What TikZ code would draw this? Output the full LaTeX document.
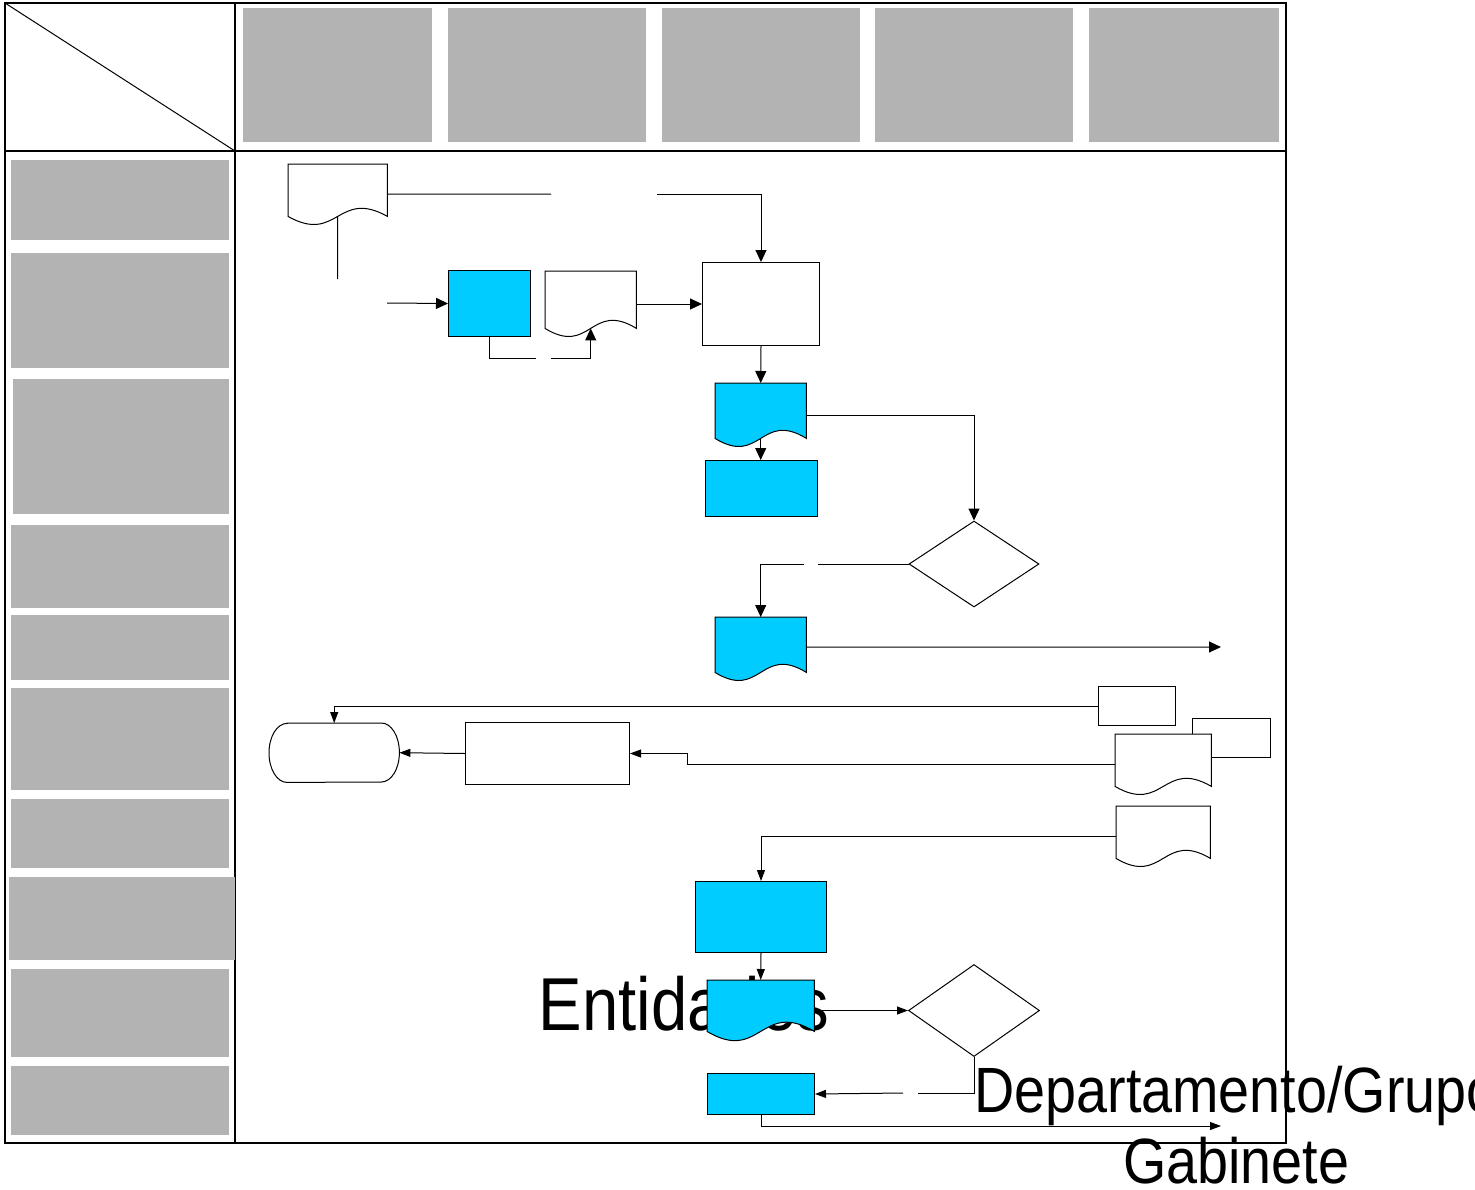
\documentclass[tikz,border=0pt]{standalone}
\usepackage{fontspec}
\newfontfamily\lblfont[FakeStretch=0.87]{Liberation Sans}
\usetikzlibrary{shapes.geometric,arrows.meta,calc}
\definecolor{lanegray}{HTML}{B3B3B3}
\definecolor{procblue}{HTML}{00CCFF}
\newcommand\docpath[3]{%
  \draw[line width=1pt, fill=#2] (#1.north west) -- (#1.north east) -- (#1.south east)
    .. controls ($(#1.south)+(0,-#3)$) and ($(#1.south)+(0,#3)$) .. (#1.south west) -- cycle;}
\newcommand\hdrbox[5]{\node[hdr, minimum width=#4pt, minimum height=#5pt] (#1) at (#2,#3) {};}
\begin{document}
\begin{tikzpicture}[x=1pt,y=-1pt,
  frame/.style={line width=1.5pt},
  hdr/.style={fill=lanegray, draw=none, inner sep=0, anchor=north west},
  box/.style={draw, line width=1pt, fill=white, inner sep=0, anchor=north west},
  bluebox/.style={box, fill=procblue},
  docarea/.style={draw=none, inner sep=0, anchor=north west},
  dec/.style={draw, line width=1pt, fill=white, shape=diamond, inner sep=0},
  flow/.style={line width=1pt, -{Triangle[length=12pt,width=11pt]}},
  flowsm/.style={line width=1pt, -{Triangle[length=11pt,width=8pt]}},
  plain/.style={line width=1pt},
  lbl/.style={inner sep=0, anchor=base},
]
\useasboundingbox (0,0) rectangle (1475,1189);
% frame
\draw[frame] (5,3) rectangle (1286,1143);
\draw[frame] (5,151) -- (1286,151);
\draw[frame] (235,3) -- (235,1143);
\draw[line width=1pt] (5,3) -- (235,151);
% header boxes
\hdrbox{t1}{243}{8}{189}{134}
\hdrbox{t2}{448}{8}{198}{134}
\hdrbox{t3}{662}{8}{198}{134}
\hdrbox{t4}{875}{8}{198}{134}
\hdrbox{t5}{1089}{8}{190}{134}
\hdrbox{r1}{11}{160}{218}{80}
\hdrbox{r2}{11}{253}{218}{115}
\hdrbox{r3}{13}{379}{216}{135}
\hdrbox{r4}{11}{525}{218}{83}
\hdrbox{r5}{11}{615}{218}{65}
\hdrbox{r6}{11}{688}{218}{102}
\hdrbox{r7}{11}{799}{218}{69}
\hdrbox{r8}{9}{877}{226}{83}
\hdrbox{r9}{11}{969}{218}{88}
\hdrbox{r10}{11}{1066}{218}{69}
% big labels
\node[lbl, font={\lblfont\fontsize{75}{80}\selectfont}] (ent) at (684,1030) {Entidades};
% shapes
\node[docarea, minimum width=99pt, minimum height=52pt] (A) at (288,164) {};
\docpath{A}{white}{28}
\node[bluebox, minimum width=82pt, minimum height=66pt] (C) at (448,270) {};
\node[docarea, minimum width=91pt, minimum height=57pt] (D) at (545,271) {};
\docpath{D}{white}{28}
\node[box, minimum width=117pt, minimum height=83pt] (B) at (702,262) {};
\node[docarea, minimum width=91pt, minimum height=55pt] (E) at (715,383) {};
\docpath{E}{procblue}{28}
\node[bluebox, minimum width=112pt, minimum height=56pt] (F) at (705,460) {};
\node[dec, minimum width=130pt, minimum height=86pt] (G) at (974,564) {};
\node[docarea, minimum width=91pt, minimum height=55pt] (H) at (715,617) {};
\docpath{H}{procblue}{28}
\node[box, minimum width=77pt, minimum height=39pt] (I) at (1098,686) {};
\node[box, minimum width=78pt, minimum height=39pt] (M) at (1192,718) {};
\node[docarea, minimum width=96pt, minimum height=52pt] (L) at (1115,734) {};
\docpath{L}{white}{28}
\node[docarea, minimum width=94pt, minimum height=52pt] (N) at (1116,806) {};
\docpath{N}{white}{28}
\node[docarea, minimum width=130pt, minimum height=59pt] (J) at (269,723) {};
\draw[line width=1pt] ([xshift=18pt]J.north west) -- ([xshift=-18pt]J.north east)
  arc[start angle=90, end angle=-90, x radius=18pt, y radius=29.5pt]
  -- ([xshift=18pt]J.south west)
  arc[start angle=-90, end angle=-270, x radius=18pt, y radius=29.5pt] -- cycle;
\node[box, minimum width=164pt, minimum height=62pt] (K) at (465,722) {};
\node[bluebox, minimum width=131pt, minimum height=71pt] (O) at (695,881) {};
\node[docarea, minimum width=107pt, minimum height=51pt] (P) at (707,980) {};
\docpath{P}{procblue}{32}
\node[dec, minimum width=131pt, minimum height=92pt] (Q) at (974,1010.5) {};
\node[bluebox, minimum width=107pt, minimum height=41pt] (R) at (707,1073) {};
% free ends
\coordinate (g1a) at (551,194);
\coordinate (g1b) at (657,194);
\coordinate (aEnd) at (337.5,279);
\coordinate (cIn) at (387,303);
\coordinate (g2a) at (536,358);
\coordinate (g2b) at (551,358);
\coordinate (g3a) at (818,564);
\coordinate (g3b) at (804,564);
\coordinate (hOut) at (1221,647);
\coordinate (g4a) at (918,1093);
\coordinate (g4b) at (903,1093);
\coordinate (rOut) at (1221,1126);
% connectors
\draw[plain] ([yshift=-4pt]A.east) -- (g1a);
\draw[flow] (g1b) -| (B.north);
\draw[plain] (A.south) -- (aEnd);
\draw[flow] (cIn) -- (C.west);
\draw[plain] (C.south) |- (g2a);
\draw[flow] (g2b) -| (D.south);
\draw[flow] (D.east |- B.west) -- (B.west);
\draw[flow] (B.south) -- (E.north);
\draw[flow] (E.south) -- (E.south |- F.north);
\draw[flow] ([yshift=-4.5pt]E.east) -| (G.north);
\draw[plain] (G.west) -- (g3a);
\draw[flow] (g3b) -| (H.north);
\draw[flow] ([yshift=-2.5pt]H.east) -- (hOut);
\draw[flowsm] (I.west) -| (J.north);
\draw[flowsm] ([yshift=-4.5pt]L.west) -- ++(-428,0) |- (K.east);
\draw[flowsm] (K.west) -- (J.east);
\draw[flowsm] ([yshift=-4pt]N.west) -| (O.north);
\draw[flowsm] (O.south) -- (P.north);
\draw[flowsm] (P.east |- Q.west) -- (Q.west);
\draw[plain] (Q.south) |- (g4a);
\draw[flowsm] (g4b) -- (R.east);
\draw[flowsm] (R.south) |- (rOut);
% labels
\node[lbl, font={\lblfont\fontsize{64}{70}\selectfont}] (dep) at (1236,1112) {Departamento/Grupo};
\node[lbl, font={\lblfont\fontsize{64}{70}\selectfont}] (gab) at (1236,1183) {Gabinete};
\end{tikzpicture}
\end{document}
